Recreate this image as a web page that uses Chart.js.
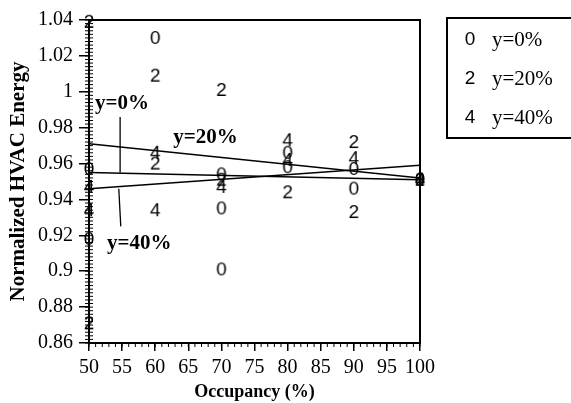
<!DOCTYPE html>
<html lang="en">
<head>
  <meta charset="UTF-8">
  <title>Normalized HVAC Energy vs Occupancy</title>
  <style>
    body {
      margin: 0;
      background: #fff;
      overflow: hidden;
    }

    .wrap {
      width: 571px;
      height: 403px;
    }
  </style>
</head>
<body>

  <div class="wrap">
    <canvas id="hvacChart" width="571" height="403"></canvas>
  </div>

  <script src="https://cdn.jsdelivr.net/npm/chart.js"></script>
  <script>
    // scatter points, one pair of arrays per series
    const occ0 = [50, 50, 60, 70, 70, 70, 80, 80, 90, 90, 100];
    const hvac0 = [0.957, 0.918, 1.030, 0.954, 0.935, 0.901, 0.966, 0.958, 0.957, 0.946, 0.951];

    const occ20 = [50, 50, 60, 60, 70, 70, 80, 90, 90, 100];
    const hvac20 = [1.039, 0.871, 1.009, 0.960, 1.001, 0.951, 0.944, 0.972, 0.933, 0.951];

    const occ40 = [50, 50, 60, 60, 70, 80, 80, 90, 100];
    const hvac40 = [0.947, 0.934, 0.966, 0.934, 0.947, 0.973, 0.962, 0.963, 0.951];

    // fitted lines
    const fitX = [50, 100];
    const fit0 = [0.955, 0.951];
    const fit20 = [0.971, 0.952];
    const fit40 = [0.946, 0.959];

    // series names and their marker digits
    const seriesNames = ['y=0%', 'y=20%', 'y=40%'];
    const seriesMarks = ['0', '2', '4'];

    // in-plot labels and their pointer strokes
    const noteText = ['y=0%', 'y=20%', 'y=40%'];
    const noteX = [55.0, 67.6, 57.6];
    const noteY = [0.9935, 0.9745, 0.9155];
    const pointerTopX = [54.7, 54.7];
    const pointerTopY = [0.986, 0.955];
    const pointerLowX = [54.5, 54.8];
    const pointerLowY = [0.946, 0.925];

    const yTicks = [0.86, 0.88, 0.9, 0.92, 0.94, 0.96, 0.98, 1, 1.02, 1.04];
    const xTicks = [50, 55, 60, 65, 70, 75, 80, 85, 90, 95, 100];

    const SERIF = '"Liberation Serif", "Times New Roman", serif';
    const SANS = '"Liberation Sans", Arial, sans-serif';

    Chart.defaults.color = '#000';

    function makeGlyph(ch) {
      const c = document.createElement('canvas');
      c.width = 14;
      c.height = 18;
      const g = c.getContext('2d');
      g.fillStyle = '#000';
      g.font = '19px ' + SANS;
      g.textAlign = 'center';
      g.textBaseline = 'middle';
      g.fillText(ch, 7, 10);
      return c;
    }

    function pairs(xs, ys) {
      return xs.map((x, i) => ({ x: x, y: ys[i] }));
    }

    function markerSet(i, xs, ys) {
      return {
        label: seriesNames[i],
        data: pairs(xs, ys),
        pointStyle: makeGlyph(seriesMarks[i]),
        pointRadius: 8,
        showLine: false,
        clip: false,
        isMarker: true
      };
    }

    function lineSet(xs, ys, w) {
      return {
        label: '',
        data: pairs(xs, ys),
        showLine: true,
        borderColor: '#000',
        borderWidth: w,
        pointRadius: 0,
        clip: false
      };
    }

    const framePlugin = {
      id: 'frame',
      beforeDatasetsDraw(chart) {
        const a = chart.chartArea;
        const ctx = chart.ctx;
        const xs = chart.scales.x;
        const ys = chart.scales.y;
        ctx.save();
        ctx.strokeStyle = '#000';
        ctx.lineWidth = 2;
        ctx.strokeRect(a.left, a.top, a.right - a.left, a.bottom - a.top);

        // minor ticks
        ctx.lineWidth = 1;
        ctx.beginPath();
        for (let v = 860; v <= 1040; v += 2) {
          const py = ys.getPixelForValue(v / 1000);
          ctx.moveTo(a.left - 4, py);
          ctx.lineTo(a.left + 4, py);
        }
        for (let v = 50; v <= 100; v++) {
          const px = xs.getPixelForValue(v);
          ctx.moveTo(px, a.bottom);
          ctx.lineTo(px, a.bottom + 4);
        }
        ctx.stroke();
        ctx.restore();
      },
      afterDraw(chart) {
        const ctx = chart.ctx;
        const xs = chart.scales.x;
        const ys = chart.scales.y;
        const a = chart.chartArea;
        ctx.save();
        ctx.fillStyle = '#000';

        // notes inside the plot
        ctx.font = 'bold 21px ' + SERIF;
        ctx.textAlign = 'center';
        ctx.textBaseline = 'middle';
        noteText.forEach((t, i) => {
          ctx.fillText(t, xs.getPixelForValue(noteX[i]), ys.getPixelForValue(noteY[i]));
        });

        // legend box, runs off the right edge
        const bx = a.right + 27;
        const by = a.top - 2;
        ctx.strokeStyle = '#000';
        ctx.lineWidth = 2;
        ctx.beginPath();
        ctx.moveTo(chart.width + 5, by);
        ctx.lineTo(bx, by);
        ctx.lineTo(bx, by + 120);
        ctx.lineTo(chart.width + 5, by + 120);
        ctx.stroke();
        const markers = chart.data.datasets.filter(d => d.isMarker);
        markers.forEach((d, i) => {
          const cy = by + 22 + i * 39;
          ctx.drawImage(d.pointStyle, bx + 16, cy - 10);
          ctx.font = '21px ' + SERIF;
          ctx.textAlign = 'left';
          ctx.fillText(d.label, bx + 45, cy);
        });
        ctx.restore();
      }
    };

    const ctx = document.getElementById('hvacChart').getContext('2d');
    const hvacChart = new Chart(ctx, {
      type: 'scatter',
      data: {
        datasets: [
          lineSet(fitX, fit20, 1.5),
          lineSet(fitX, fit0, 1.5),
          lineSet(fitX, fit40, 1.5),
          lineSet(pointerTopX, pointerTopY, 1.3),
          lineSet(pointerLowX, pointerLowY, 1.3),
          markerSet(0, occ0, hvac0),
          markerSet(1, occ20, hvac20),
          markerSet(2, occ40, hvac40)
        ]
      },
      options: {
        responsive: false,
        animation: false,
        layout: {
          padding: { left: 0, right: 151, top: 20, bottom: 0 }
        },
        plugins: {
          legend: { display: false },
          tooltip: { enabled: false }
        },
        scales: {
          x: {
            type: 'linear',
            min: 50,
            max: 100,
            afterBuildTicks: s => { s.ticks = xTicks.map(v => ({ value: v })); },
            afterFit: s => { s.height = 60; },
            grid: { drawOnChartArea: false, tickLength: 8, color: '#000', lineWidth: 1.5 },
            border: { color: '#000', width: 2 },
            ticks: { font: { family: SERIF, size: 20 }, padding: 5, maxRotation: 0 },
            title: {
              display: true,
              text: 'Occupancy (%)',
              font: { family: SERIF, size: 18, weight: 'bold' },
              padding: { top: 0, bottom: 0 }
            }
          },
          y: {
            type: 'linear',
            min: 0.86,
            max: 1.04,
            afterBuildTicks: s => { s.ticks = yTicks.map(v => ({ value: v })); },
            afterFit: s => { s.width = 89; },
            grid: { drawOnChartArea: false, tickLength: 10, color: '#000', lineWidth: 1.5 },
            border: { color: '#000', width: 2 },
            ticks: {
              font: { family: SERIF, size: 20 },
              padding: 6,
              callback: v => String(parseFloat(Number(v).toFixed(2)))
            },
            title: {
              display: true,
              text: 'Normalized HVAC Energy',
              font: { family: SERIF, size: 21, weight: 'bold' },
              padding: { top: 6, bottom: 0 }
            }
          }
        }
      },
      plugins: [framePlugin]
    });
  </script>

</body>
</html>
